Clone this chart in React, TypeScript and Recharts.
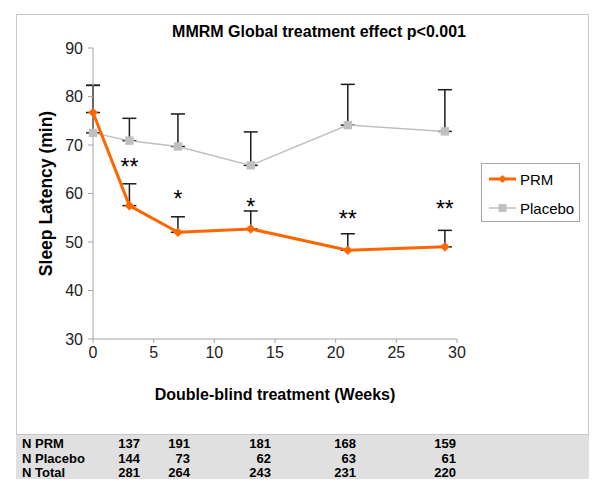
import React from 'react';
import { ComposedChart, Line, XAxis, YAxis, ErrorBar, ReferenceDot } from 'recharts';

const weeks = [0, 3, 7, 13, 21, 29];
const prmMean = [76.7, 57.5, 52.0, 52.7, 48.3, 49.0];
const prmUpperErr = [5.6, 4.5, 3.2, 3.7, 3.4, 3.4];
const placeboMean = [72.5, 70.9, 69.7, 65.8, 74.1, 72.8];
const placeboUpperErr = [9.8, 4.6, 6.7, 6.9, 8.4, 8.6];

const starWeeks = [3, 7, 13, 21, 29];
const starLevels = [66.2, 59.6, 58.0, 55.5, 57.6];
const starLabels = ['**', '*', '*', '**', '**'];

const xTicks = [0, 5, 10, 15, 20, 25, 30];
const yTicks = [30, 40, 50, 60, 70, 80, 90];

const tableLabels = ['N PRM', 'N Placebo', 'N Total'];
const nPRM = [137, 191, 181, 168, 159];
const nPlacebo = [144, 73, 62, 63, 61];
const nTotal = [281, 264, 243, 231, 220];
const tableRows = [nPRM, nPlacebo, nTotal];

const seriesNames = ['PRM', 'Placebo'];
const title = 'MMRM Global treatment effect p<0.001';
const xLabel = 'Double-blind treatment (Weeks)';
const yLabel = 'Sleep Latency (min)';

const ORANGE = '#ff6600';
const GREY = '#c0c0c0';
const FONT = 'Arial, "Liberation Sans", Helvetica, sans-serif';

const data = weeks.map((w, i) => ({
  week: w,
  prm: prmMean[i],
  placebo: placeboMean[i],
  prmErr: [0, prmUpperErr[i]],
  placeboErr: [0, placeboUpperErr[i]],
}));

const Diamond = (p: any) => {
  const { cx, cy } = p;
  if (cx == null || cy == null) return <g key={p.key} />;
  const r = 4.8;
  return (
    <path
      key={p.key}
      d={`M${cx},${cy - r}L${cx + r},${cy}L${cx},${cy + r}L${cx - r},${cy}Z`}
      fill={ORANGE}
    />
  );
};

const Square = (p: any) => {
  const { cx, cy } = p;
  if (cx == null || cy == null) return <g key={p.key} />;
  const r = 4.2;
  return <rect key={p.key} x={cx - r} y={cy - r} width={2 * r} height={2 * r} fill={GREY} />;
};

const StarLabel = (text: string) => (props: any) => {
  const vb = props.viewBox || {};
  const x = vb.x + (vb.width || 0) / 2;
  const y = vb.y + (vb.height || 0) / 2;
  return (
    <text x={x} y={y + 12} textAnchor="middle" fontSize={23} fontFamily={FONT} fill="#000">
      {text}
    </text>
  );
};

const LegendBox = () => (
  <svg width={100} height={60} style={{ display: 'block' }}>
    <rect x={0.5} y={0.5} width={98} height={58} fill="#fff" stroke="#a6a6a6" />
    <line x1={8} x2={35} y1={16} y2={16} stroke={ORANGE} strokeWidth={3} />
    <path d="M21.5,12L25.5,16L21.5,20L17.5,16Z" fill={ORANGE} />
    <text x={39} y={21.5} fontSize={15} fontFamily={FONT} fill="#000">{seriesNames[0]}</text>
    <line x1={8} x2={35} y1={45} y2={45} stroke={GREY} strokeWidth={1.5} />
    <rect x={17.5} y={41} width={8} height={8} fill={GREY} />
    <text x={39} y={50.5} fontSize={15} fontFamily={FONT} fill="#000">{seriesNames[1]}</text>
  </svg>
);

const colRight = [140, 190, 271, 356, 456];

export default function App() {
  return (
    <div style={{ position: 'absolute', left: 0, top: 0, width: 600, height: 490, background: '#fff', fontFamily: FONT }}>
      <div
        style={{
          position: 'absolute',
          left: 16,
          top: 14,
          width: 573,
          height: 421,
          border: '1px solid #c8c8c8',
          boxSizing: 'border-box',
        }}
      />
      <div style={{ position: 'absolute', left: 0, top: 0 }}>
        <ComposedChart
          width={600}
          height={490}
          data={data}
          margin={{ top: 48, right: 143, bottom: 121, left: 53 }}
        >
          <text x={319} y={37} textAnchor="middle" fontSize={16} fontWeight="bold" fontFamily={FONT} fill="#000">
            {title}
          </text>
          <XAxis
            dataKey="week"
            type="number"
            domain={[0, 30]}
            ticks={xTicks}
            height={30}
            stroke="#a6a6a6"
            tickSize={4}
            tick={{ fill: '#222', fontSize: 16, fontFamily: FONT }}
            tickMargin={4}
            label={{
              value: xLabel,
              position: 'insideBottom',
              offset: -31,
              style: { fontSize: 16, fontWeight: 'bold', fontFamily: FONT, fill: '#000' },
            }}
          />
          <YAxis
            type="number"
            domain={[30, 90]}
            ticks={yTicks}
            width={40}
            stroke="#a6a6a6"
            tickSize={5}
            tickMargin={5}
            tick={{ fill: '#222', fontSize: 16, fontFamily: FONT }}
            label={{
              value: yLabel,
              angle: -90,
              position: 'insideLeft',
              offset: -7,
              style: { textAnchor: 'middle', fontSize: 17.5, fontWeight: 'bold', fontFamily: FONT, fill: '#000' },
            }}
          />
          <Line
            dataKey="placebo"
            stroke="none"
            dot={false}
            activeDot={false}
            legendType="none"
            isAnimationActive={false}
          >
            <ErrorBar dataKey="placeboErr" width={7} stroke="#1a1a1a" strokeWidth={1.5} direction="y" />
          </Line>
          <Line
            dataKey="prm"
            stroke="none"
            dot={false}
            activeDot={false}
            legendType="none"
            isAnimationActive={false}
          >
            <ErrorBar dataKey="prmErr" width={7} stroke="#1a1a1a" strokeWidth={1.5} direction="y" />
          </Line>
          <Line
            dataKey="placebo"
            name={seriesNames[1]}
            stroke={GREY}
            strokeWidth={1.5}
            dot={Square}
            activeDot={false}
            isAnimationActive={false}
          />
          <Line
            dataKey="prm"
            name={seriesNames[0]}
            stroke={ORANGE}
            strokeWidth={3}
            dot={Diamond}
            activeDot={false}
            isAnimationActive={false}
          />
          {starWeeks.map((w, i) => (
            <ReferenceDot
              key={`star-${i}`}
              x={w}
              y={starLevels[i]}
              r={0}
              fill="none"
              stroke="none"
              label={StarLabel(starLabels[i])}
            />
          ))}
        </ComposedChart>
      </div>
      <div style={{ position: 'absolute', left: 481, top: 163 }}>
        <LegendBox />
      </div>
      <div
        style={{
          position: 'absolute',
          left: 16,
          top: 435,
          width: 573,
          height: 44,
          background: '#e0e0e0',
        }}
      >
        {tableLabels.map((lab, r) => (
          <React.Fragment key={lab}>
            <div
              style={{
                position: 'absolute',
                left: 6,
                top: 2 + r * 14.5,
                fontSize: 13,
                fontWeight: 'bold',
                lineHeight: '14px',
                color: '#000',
              }}
            >
              {lab}
            </div>
            {tableRows[r].map((v, c) => (
              <div
                key={c}
                style={{
                  position: 'absolute',
                  right: 573 - (colRight[c] - 16),
                  top: 2 + r * 14.5,
                  fontSize: 13,
                  fontWeight: 'bold',
                  lineHeight: '14px',
                  color: '#000',
                  textAlign: 'right',
                }}
              >
                {v}
              </div>
            ))}
          </React.Fragment>
        ))}
      </div>
    </div>
  );
}
